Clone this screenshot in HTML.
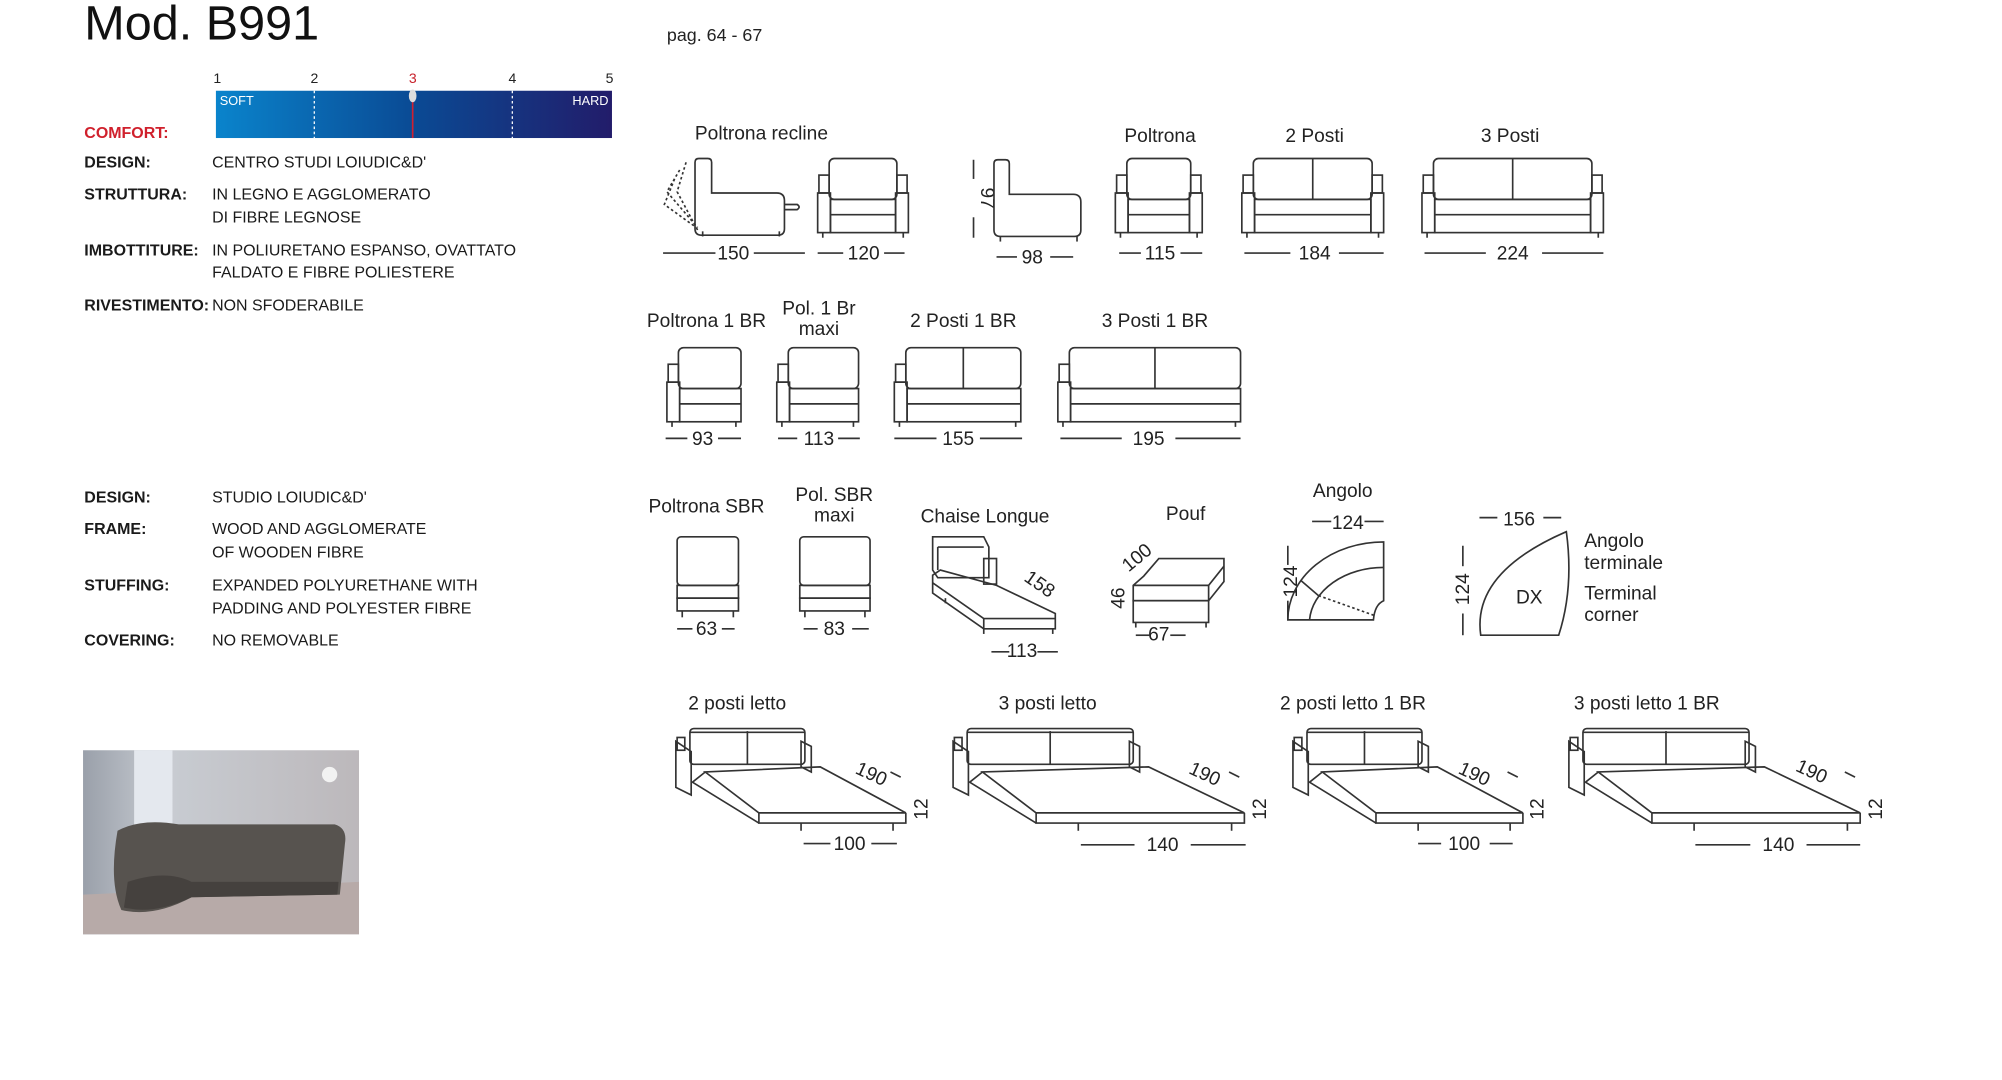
<!DOCTYPE html>
<html><head><meta charset="utf-8">
<style>
html,body{margin:0;padding:0;background:#fff;}
svg{display:block}
.l{font-family:"Liberation Sans",sans-serif;font-size:15px;fill:#222;}
.k{font-family:"Liberation Sans",sans-serif;font-size:12.5px;fill:#1a1a1a;font-weight:bold;}
.v{font-family:"Liberation Sans",sans-serif;font-size:12.5px;fill:#1a1a1a;}
#g rect,#g path,#g line,#g polygon,#g polyline{fill:none;stroke:#333;stroke-width:1.3;}
</style></head><body>
<svg width="2002" height="1080" viewBox="0 0 1567 845" preserveAspectRatio="none" xmlns="http://www.w3.org/2000/svg">
<defs><linearGradient id="bar" x1="0" x2="1"><stop offset="0" stop-color="#0a84cc"/><stop offset="0.5" stop-color="#0a4a94"/><stop offset="1" stop-color="#221c6a"/></linearGradient>
<linearGradient id="wall" x1="0" x2="1"><stop offset="0" stop-color="#9aa0aa"/><stop offset="0.3" stop-color="#c8ccd2"/><stop offset="1" stop-color="#bcb8bb"/></linearGradient></defs>
<text x="66" y="31" font-family="Liberation Sans,sans-serif" font-size="38" fill="#111">Mod. B991</text>
<text x="522" y="32" class="l" style="font-size:14px">pag. 64 - 67</text>
<g font-family="Liberation Sans,sans-serif" font-size="11" fill="#222"><text x="167" y="65">1</text><text x="243" y="65">2</text><text x="320" y="65" fill="#c8202a">3</text><text x="398" y="65">4</text><text x="474" y="65">5</text></g>
<rect x="169" y="71" width="310" height="37" fill="url(#bar)"/>
<line x1="246" y1="71" x2="246" y2="108" stroke="#fff" stroke-dasharray="2,2"/>
<line x1="401" y1="71" x2="401" y2="108" stroke="#fff" stroke-dasharray="2,2"/>
<line x1="323" y1="76" x2="323" y2="108" stroke="#d02030" stroke-width="1.3"/>
<ellipse cx="323" cy="75" rx="3" ry="5" fill="#ddd"/>
<text x="172" y="82" font-family="Liberation Sans,sans-serif" font-size="10" fill="#fff">SOFT</text>
<text x="448" y="82" font-family="Liberation Sans,sans-serif" font-size="10" fill="#fff">HARD</text>
<text x="66" y="108" class="k" style="fill:#d0202c">COMFORT:</text>
<text x="66" y="131" class="k">DESIGN:</text><text x="166" y="131" class="v">CENTRO STUDI LOIUDIC&amp;D'</text>
<text x="66" y="156" class="k">STRUTTURA:</text><text x="166" y="156" class="v">IN LEGNO E AGGLOMERATO</text><text x="166" y="174" class="v">DI FIBRE LEGNOSE</text>
<text x="66" y="200" class="k">IMBOTTITURE:</text><text x="166" y="200" class="v">IN POLIURETANO ESPANSO, OVATTATO</text><text x="166" y="217" class="v">FALDATO E FIBRE POLIESTERE</text>
<text x="66" y="243" class="k">RIVESTIMENTO:</text><text x="166" y="243" class="v">NON SFODERABILE</text>
<text x="66" y="393" class="k">DESIGN:</text><text x="166" y="393" class="v">STUDIO LOIUDIC&amp;D'</text>
<text x="66" y="418" class="k">FRAME:</text><text x="166" y="418" class="v">WOOD AND AGGLOMERATE</text><text x="166" y="436" class="v">OF WOODEN FIBRE</text>
<text x="66" y="462" class="k">STUFFING:</text><text x="166" y="462" class="v">EXPANDED POLYURETHANE WITH</text><text x="166" y="480" class="v">PADDING AND POLYESTER FIBRE</text>
<text x="66" y="505" class="k">COVERING:</text><text x="166" y="505" class="v">NO REMOVABLE</text>
<rect x="65" y="587" width="216" height="144" fill="url(#wall)"/>
<rect x="105" y="587" width="30" height="65" fill="#e4e8ee"/>
<path d="M65 700 L281 690 L281 731 L65 731Z" fill="#b7aaa8"/>
<path d="M92 650 Q110 640 140 645 L262 645 Q272 648 270 660 L266 700 L150 702 Q120 718 95 712 Q85 690 92 650Z" fill="#57534f"/>
<path d="M100 690 Q130 680 150 690 L265 690 L264 700 L150 702 Q120 716 97 710Z" fill="#45413e"/>
<circle cx="258" cy="606" r="6" fill="#f2f2f2"/>
<g class="l" text-anchor="middle">
<text x="596" y="109">Poltrona recline</text><text x="908" y="111">Poltrona</text><text x="1029" y="111">2 Posti</text><text x="1182" y="111">3 Posti</text>
<text x="553" y="256">Poltrona 1 BR</text><text x="641" y="246">Pol. 1 Br</text><text x="641" y="262">maxi</text><text x="754" y="256">2 Posti 1 BR</text><text x="904" y="256">3 Posti 1 BR</text>
<text x="553" y="401">Poltrona SBR</text><text x="653" y="392">Pol. SBR</text><text x="653" y="408">maxi</text><text x="771" y="409">Chaise Longue</text><text x="928" y="407">Pouf</text><text x="1051" y="389">Angolo</text>
<text x="577" y="555">2 posti letto</text><text x="820" y="555">3 posti letto</text><text x="1059" y="555">2 posti letto 1 BR</text><text x="1289" y="555">3 posti letto 1 BR</text>
<text x="574" y="203">150</text><text x="676" y="203">120</text><text x="808" y="206">98</text><text x="908" y="203">115</text><text x="1029" y="203">184</text><text x="1184" y="203">224</text>
<text x="550" y="348">93</text><text x="641" y="348">113</text><text x="750" y="348">155</text><text x="899" y="348">195</text>
<text x="553" y="497">63</text><text x="653" y="497">83</text><text x="800" y="514">113</text><text x="907" y="501">67</text><text x="1055" y="414">124</text><text x="1189" y="411">156</text><text x="1197" y="472">DX</text>
<text x="665" y="665">100</text><text x="910" y="666">140</text><text x="1146" y="665">100</text><text x="1392" y="666">140</text>
</g>
<g class="l"><text x="1240" y="428">Angolo</text><text x="1240" y="445">terminale</text><text x="1240" y="469">Terminal</text><text x="1240" y="486">corner</text></g>
<g class="l" text-anchor="middle">
<text transform="translate(768,155) rotate(90)">97</text>
<text transform="translate(1015,455) rotate(-90)">124</text>
<text transform="translate(1150,461) rotate(-90)">124</text>
<text transform="translate(880,468) rotate(-90)">46</text>
<text transform="translate(893,440) rotate(-40)">100</text>
<text transform="translate(811,461) rotate(35)">158</text>
<text transform="translate(680,610) rotate(25)">190</text><text transform="translate(941,610) rotate(25)">190</text><text transform="translate(1152,610) rotate(25)">190</text><text transform="translate(1416,608) rotate(25)">190</text>
<text transform="translate(726,633) rotate(-90)">12</text><text transform="translate(991,633) rotate(-90)">12</text><text transform="translate(1208,633) rotate(-90)">12</text><text transform="translate(1473,633) rotate(-90)">12</text>
</g>
<g id="g"></g>
</svg>
<script>
var g=document.getElementById('g'),s='';
function L(a,b,c,d){s+='<line x1="'+a+'" y1="'+b+'" x2="'+c+'" y2="'+d+'"/>';}
function R(x,y,w,h,r){s+='<rect x="'+x+'" y="'+y+'" width="'+w+'" height="'+h+'" rx="'+(r||0)+'"/>';}
function P(d,dash){s+='<path d="'+d+'"'+(dash?' stroke-dasharray="2,2"':'')+'/>';}
function F(x0,x1,t,arm,seats,h){h=h||58;var b=t+h;var ax0=x0+10,ax1=arm=='both'?x1-10:x1;
 R(x0+9,t,(arm=='both'?x1-9:x1)-x0-9,32,4);
 R(x0+1,t+13,8,14);if(arm=='both')R(x1-9,t+13,8,14);
 R(x0,t+27,10,h-27);if(arm=='both')R(x1-10,t+27,10,h-27);
 R(ax0,t+32,ax1-ax0,h-32);L(ax0,t+44,ax1,t+44);
 for(var i=1;i<seats;i++){var xx=x0+9+((arm=='both'?x1-9:x1)-x0-9)*i/seats;L(xx,t,xx,t+32);}
 L(x0+4,b,x0+4,b+4);L(x1-4,b,x1-4,b+4);}
function D(x0,x1,y,lx,rx){L(x0,y,lx,y);L(rx,y,x1,y);}
P('M548 124 h6 q3 0 3 3 v24 h51 q6 0 6 6 v22 q0 5-5 5 h-60 q-5 0-5-5 v-52 q0-3 3-3z');
P('M614 160 h10 q3 2 0 4 h-10');L(550,185,550,181);L(610,185,610,181);
P('M537 127 L530 150 L546 180',1);P('M532 133 L522 150 L546 178',1);P('M528 140 L520 160 L545 178',1);
F(640,711,124,'both',1);
P('M781 125 h6 q3 0 3 3 v24 h50 q6 0 6 6 v22 q0 5-5 5 h-58 q-5 0-5-5 v-52 q0-3 3-3z');L(783,185,783,189);L(843,185,843,189);
L(762,125,762,140);L(762,170,762,186);
F(873,941,124,'both',1);F(972,1083,124,'both',2);F(1113,1255,124,'both',2);
D(519,630,198,560,590);D(640,708,198,660,692);D(780,840,201,796,822);D(876,941,198,893,924);D(974,1083,198,1010,1048);D(1115,1255,198,1163,1207);
F(522,580,272,'left',1);F(608,672,272,'left',1);F(700,799,272,'left',2);F(828,971,272,'left',2);
D(521,580,343,538,562);D(609,673,343,624,656);D(700,800,343,733,767);D(830,971,343,878,920);
function S(x0,x1,t){R(x0,t,x1-x0,38,3);R(x0,t+38,x1-x0,10);R(x0,t+48,x1-x0,10);L(x0+4,t+58,x0+4,t+63);L(x1-4,t+58,x1-4,t+63);}
S(530,578,420);S(626,681,420);
D(530,575,492,542,565);D(629,680,492,640,667);
P('M730 420 h40 l4 8 v24 h-40 l-4 -6z');P('M734 428 h36');L(734,428,734,446);R(770,437,10,20);
P('M730 450 L736 446 L780 458 L826 480 L826 492 L770 492 L730 464z');P('M730 456 L770 484 L826 484');P('M770 484 L770 492');
L(740,468,740,472);L(770,492,770,496);L(824,492,824,496);D(776,828,510,790,812);
P('M895 451 L907 437 L958 437 L958 455 L946 470 L887 470 L887 458z');P('M887 458 L946 458 L958 443');L(946,458,946,470);
R(887,470,59,17);L(889,487,889,491);L(944,487,944,491);D(889,928,497,900,916);
P('M1008 485 A75 61 0 0 1 1083 424 L1083 470 Q1076 473 1075 485 Z');P('M1025 485 A58 44 0 0 1 1083 444');L(1018,454,1032,466);P('M1032 466 L1077 482',1);
L(1008,427,1008,442);L(1008,470,1008,485);D(1027,1083,408,1042,1068);
P('M1159 497 Q1152 448 1226 416 Q1232 460 1220 497 Z');L(1145,427,1145,443);L(1145,480,1145,497);D(1158,1222,405,1172,1208);
function B(x0,W){var bw=W==140?130:90;
 R(x0+11,570,bw,28,3);L(x0+11+bw/2,572,x0+11+bw/2,598);P('M'+(x0+11)+' 573 h'+bw,0);
 P('M'+x0+' 580 v36 l12 6 v-34 l-12 -8z');R(x0+1,577,6,10);
 P('M'+(x0+98+bw-90)+' 580 l8 4 v20 l-8 -4z');
 var a=x0+23,b=x0+23+bw,c=x0+180+(bw-90)*1.2,d=x0+65;
 P('M'+a+' 604 L'+b+' 600 L'+c+' 636 L'+d+' 636 Z');P('M'+d+' 636 v8 h'+(c-d)+' v-8');P('M'+a+' 604 L'+(a-10)+' 612 L'+d+' 644');
 L(d+33,644,d+33,650);L(c-10,644,c-10,650);
 L(c-12,604,c-4,608);}
B(529,100);B(746,140);B(1012,100);B(1228,140);
D(629,702,660,650,682);D(846,975,661,888,932);D(1110,1184,660,1128,1166);D(1327,1456,661,1370,1414);
g.innerHTML=s;
</script>
</body></html>
